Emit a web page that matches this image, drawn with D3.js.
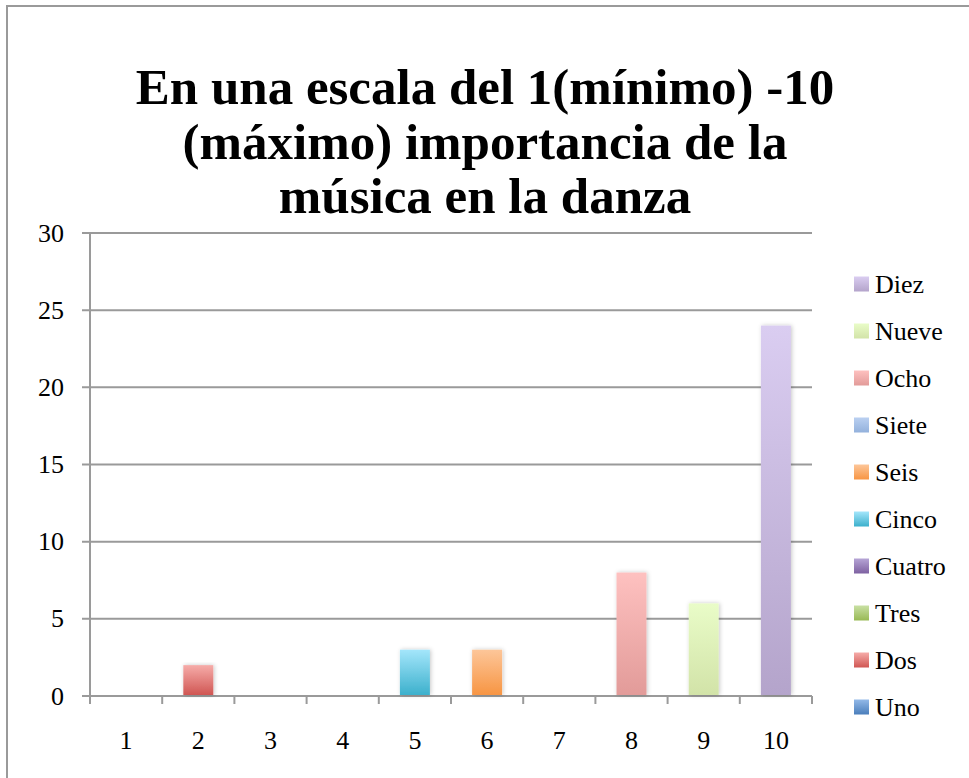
<!DOCTYPE html>
<html>
<head>
<meta charset="utf-8">
<script src="https://cdn.jsdelivr.net/npm/d3@7"></script>
<style>
  body { margin: 0; background: #fff; }
  svg { display: block; }
</style>
</head>
<body>
<svg id="svg" width="969" height="778"></svg>
<script>
// data
const titleLines = ["En una escala del 1(mínimo) -10", "(máximo) importancia de la", "música en la danza"];
const categories = ["1", "2", "3", "4", "5", "6", "7", "8", "9", "10"];
const seriesNames = ["Uno", "Dos", "Tres", "Cuatro", "Cinco", "Seis", "Siete", "Ocho", "Nueve", "Diez"];
// each series only has a value at its own category
const seriesValues = [0, 2, 0, 0, 3, 3, 0, 8, 6, 24];
const yTicks = [0, 5, 10, 15, 20, 25, 30];
const topColors = ["#93b9e8", "#f6aca9", "#c9e0a4", "#b6a5d6", "#a4e6fb", "#fdc699", "#bad0f1", "#fec1c0", "#e9fcc8", "#dacdf1"];
const bottomColors = ["#4a7ebb", "#d05653", "#98b954", "#7e61a1", "#3cb0cc", "#f79543", "#93b1dc", "#e29b99", "#d2e3a8", "#b4a4cb"];

draw();

function draw() {
    const fontFamily = "'Liberation Serif', 'DejaVu Serif', serif";
    const gridColor = "#9a9a9a";
    const labelSize = 26;

    const svg = d3.select("#svg");
    const defs = svg.append("defs");

    seriesNames.forEach((name, i) => {
        const g = defs.append("linearGradient")
            .attr("id", "grad" + i)
            .attr("x1", 0).attr("y1", 0).attr("x2", 0).attr("y2", 1);
        g.append("stop").attr("offset", "0%").attr("stop-color", topColors[i]);
        g.append("stop").attr("offset", "100%").attr("stop-color", bottomColors[i]);
    });

    defs.append("filter")
        .attr("id", "shadow")
        .attr("x", "-30%").attr("y", "-10%").attr("width", "160%").attr("height", "120%")
        .append("feDropShadow")
        .attr("dx", 1).attr("dy", 0).attr("stdDeviation", 2)
        .attr("flood-color", "#000").attr("flood-opacity", 0.22);

    // outer frame, runs off the bottom/right of the window
    svg.append("rect")
        .attr("x", 7).attr("y", 6)
        .attr("width", 1000).attr("height", 1000)
        .attr("fill", "none")
        .attr("stroke", gridColor)
        .attr("stroke-width", 2);

    // title
    svg.append("g")
        .selectAll("text")
        .data(titleLines)
        .join("text")
        .attr("x", 485)
        .attr("y", (d, i) => 104 + i * 54.5)
        .attr("text-anchor", "middle")
        .attr("font-family", fontFamily)
        .attr("font-weight", "bold")
        .attr("font-size", 51)
        .attr("fill", "#000")
        .text(d => d);

    const x = d3.scaleBand().domain(categories).range([90, 812]);
    const y = d3.scaleLinear().domain([0, 30]).range([696, 233]);
    const barWidth = x.bandwidth() * 0.415;

    // gridlines + y ticks
    svg.append("g")
        .selectAll("line")
        .data(yTicks)
        .join("line")
        .attr("x1", 82).attr("x2", 812)
        .attr("y1", d => y(d)).attr("y2", d => y(d))
        .attr("stroke", gridColor)
        .attr("stroke-width", 2);

    svg.append("g")
        .selectAll("text")
        .data(yTicks)
        .join("text")
        .attr("x", 64)
        .attr("y", d => y(d))
        .attr("dy", "0.33em")
        .attr("text-anchor", "end")
        .attr("font-family", fontFamily)
        .attr("font-size", labelSize)
        .attr("fill", "#000")
        .text(d => d);

    // y axis line
    svg.append("line")
        .attr("x1", 90).attr("x2", 90)
        .attr("y1", y(30)).attr("y2", 704)
        .attr("stroke", gridColor)
        .attr("stroke-width", 2);

    // x tick marks on band edges
    const edges = categories.map(c => x(c)).concat([x.range()[1]]);
    svg.append("g")
        .selectAll("line")
        .data(edges.slice(1))
        .join("line")
        .attr("x1", d => d).attr("x2", d => d)
        .attr("y1", y(0)).attr("y2", 704)
        .attr("stroke", gridColor)
        .attr("stroke-width", 2);

    svg.append("g")
        .selectAll("text")
        .data(categories)
        .join("text")
        .attr("x", d => x(d) + x.bandwidth() / 2)
        .attr("y", 749)
        .attr("text-anchor", "middle")
        .attr("font-family", fontFamily)
        .attr("font-size", labelSize)
        .attr("fill", "#000")
        .text(d => d);

    // bars
    const bars = seriesNames.map((name, i) => ({name, cat: categories[i], value: seriesValues[i], idx: i}));
    svg.append("g")
        .selectAll("rect")
        .data(bars.filter(d => d.value > 0))
        .join("rect")
        .attr("x", d => x(d.cat) + (x.bandwidth() - barWidth) / 2)
        .attr("y", d => y(d.value))
        .attr("width", barWidth)
        .attr("height", d => y(0) - y(d.value) - 1)
        .attr("fill", d => `url(#grad${d.idx})`)
        .attr("filter", "url(#shadow)");

    // legend, Diez on top
    const legend = svg.append("g")
        .selectAll("g")
        .data(seriesNames.map((n, i) => ({name: n, idx: i})).reverse())
        .join("g")
        .attr("transform", (d, i) => `translate(854, ${284 + i * 47})`);

    legend.append("rect")
        .attr("x", 0).attr("y", -7.5)
        .attr("width", 15).attr("height", 15)
        .attr("fill", d => `url(#grad${d.idx})`);

    legend.append("text")
        .attr("x", 21)
        .attr("y", 0)
        .attr("dy", "0.33em")
        .attr("font-family", fontFamily)
        .attr("font-size", labelSize)
        .attr("fill", "#000")
        .text(d => d.name);
}
</script>
</body>
</html>
